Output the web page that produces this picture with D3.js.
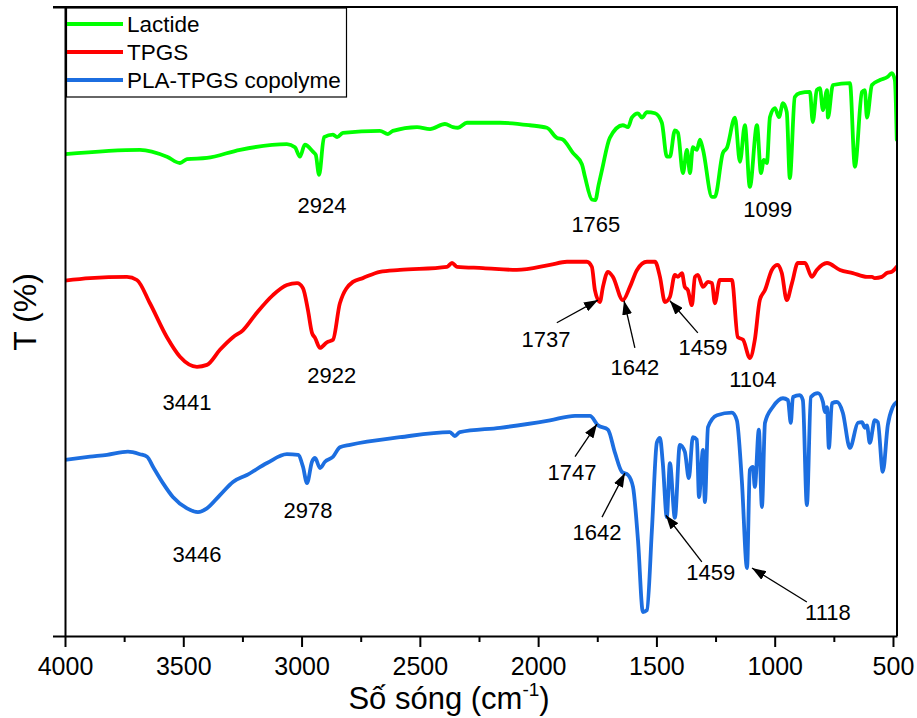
<!DOCTYPE html>
<html>
<head>
<meta charset="utf-8">
<script src="https://cdn.jsdelivr.net/npm/d3@7"></script>
<style>
  html, body { margin: 0; padding: 0; background: #fff; }
  svg { display: block; }
  text { font-family: "Liberation Sans", Arial, sans-serif; fill: #000; }
</style>
</head>
<body>
<svg id="chart" width="917" height="718"></svg>
<script>
// FTIR spectra: wavenumber (cm-1) and transmittance (offset, arbitrary %)
const lactide = [
  [4000,76.6],[3683,77.3],[3569,76.2],[3514,75.2],[3484,75.8],[3400,76.0],[3260,77.3],
  [3062,78.2],[3028,77.7],[3007,76.2],[2986,78.1],[2952,77.0],[2940,76.5],[2926,73.3],
  [2905,79.3],[2867,79.7],[2850,79.3],[2825,80.0],[2669,80.3],[2635,79.8],[2614,80.3],
  [2512,80.9],[2457,80.6],[2394,81.4],[2360,80.9],[2339,80.8],[2301,81.6],[2161,81.6],
  [2035,81.2],[1963,80.8],[1921,79.2],[1895,78.9],[1853,76.8],[1815,75.0],[1802,73.0],
  [1773,69.4],[1758,69.3],[1745,71.6],[1730,74.1],[1697,79.2],[1642,81.2],[1620,80.9],
  [1604,82.4],[1578,83.1],[1561,82.4],[1540,83.3],[1506,83.1],[1477,81.6],[1456,76.2],
  [1443,76.2],[1422,80.4],[1409,80.0],[1388,73.6],[1371,77.3],[1358,73.6],[1346,77.7],
  [1329,77.3],[1316,78.9],[1303,77.3],[1265,69.8],[1253,69.8],[1219,76.8],[1202,77.6],
  [1168,82.4],[1147,75.4],[1126,81.2],[1105,71.4],[1075,81.2],[1058,73.6],[1046,75.7],
  [1033,75.2],[1020,82.5],[999,83.9],[982,82.5],[965,84.7],[949,83.3],[936,72.8],
  [915,85.7],[894,86.3],[851,86.5],[839,81.7],[822,86.8],[809,87.1],[796,83.6],
  [779,86.8],[775,82.4],[754,87.6],[682,87.9],[661,74.6],[631,86.5],[619,86.8],
  [610,82.4],[589,87.6],[555,88.4],[522,88.9],[505,89.5],[492,88.4],[484,78.9]
];

const tpgs = [
  [4000,56.5],[3894,56.9],[3738,57.1],[3696,56.6],[3641,52.9],[3569,47.5],[3514,44.4],
  [3442,42.8],[3400,43.1],[3345,45.5],[3290,47.5],[3248,48.6],[3189,51.4],[3121,54.2],
  [3062,55.8],[3019,56.1],[2994,55.3],[2973,51.8],[2956,48.2],[2943,47.4],[2922,45.8],
  [2893,46.7],[2867,47.1],[2838,52.9],[2783,56.3],[2741,56.9],[2669,57.9],[2584,58.2],
  [2385,58.7],[2364,59.3],[2343,58.7],[2233,58.5],[2090,58.2],[1950,59.0],[1878,59.5],
  [1794,59.5],[1773,58.7],[1760,55.0],[1739,53.1],[1726,55.5],[1705,57.9],[1684,57.1],
  [1642,53.4],[1612,55.5],[1582,58.2],[1540,59.5],[1506,59.5],[1485,57.1],[1464,53.1],
  [1443,53.9],[1422,57.4],[1409,57.1],[1392,57.7],[1380,55.5],[1367,55.0],[1350,52.6],
  [1337,57.1],[1325,57.4],[1303,55.5],[1282,56.3],[1265,56.1],[1253,52.9],[1232,56.6],
  [1181,56.6],[1156,47.5],[1134,47.1],[1105,44.2],[1084,47.1],[1063,53.4],[1041,55.0],
  [1012,58.2],[987,59.0],[970,57.7],[949,53.4],[927,56.1],[902,59.3],[872,59.3],
  [843,57.1],[822,58.2],[779,59.3],[724,58.2],[670,57.7],[610,57.1],[589,57.1],
  [577,56.9],[547,57.1],[526,57.7],[505,57.9],[484,58.7]
];

const plaTpgs = [
  [4000,28.0],[3894,28.5],[3822,28.8],[3734,29.3],[3683,28.9],[3653,28.5],[3628,26.9],
  [3586,24.3],[3544,22.1],[3484,20.3],[3438,19.7],[3400,20.3],[3345,22.4],[3290,24.5],
  [3231,25.6],[3146,27.5],[3062,28.9],[3015,28.8],[2994,26.9],[2977,24.3],[2956,27.7],
  [2943,28.3],[2922,26.7],[2901,27.7],[2867,28.5],[2838,30.0],[2795,30.4],[2584,31.6],
  [2373,32.4],[2352,31.8],[2331,32.4],[2161,33.1],[1950,34.3],[1844,35.0],[1781,35.0],
  [1747,33.5],[1705,32.8],[1675,29.1],[1646,26.1],[1620,25.6],[1599,23.7],[1578,15.3],
  [1557,3.8],[1540,4.1],[1519,16.9],[1498,30.8],[1485,31.5],[1473,27.5],[1456,18.9],
  [1443,27.5],[1422,18.8],[1401,30.4],[1380,29.3],[1363,25.1],[1346,31.6],[1329,31.2],
  [1320,22.1],[1303,29.6],[1295,21.3],[1282,33.2],[1244,35.1],[1181,35.5],[1160,34.3],
  [1139,24.8],[1117,10.8],[1105,26.4],[1092,26.9],[1084,23.7],[1067,32.8],[1054,20.5],
  [1041,33.9],[1008,36.4],[965,37.8],[944,37.5],[932,33.9],[923,38.0],[894,38.3],
  [881,37.5],[864,20.8],[847,38.0],[817,38.6],[796,37.2],[788,35.6],[779,36.4],
  [771,29.9],[758,37.0],[737,37.2],[712,35.5],[682,29.9],[648,33.9],[631,34.0],
  [619,33.1],[610,33.5],[598,30.7],[577,34.3],[564,34.0],[543,26.1],[522,33.5],
  [501,36.4],[484,37.2]
];

const seriesNames = ["Lactide", "TPGS", "PLA-TPGS copolyme"];
const seriesColors = ["#00ff00", "#ff0000", "#1c6ee0"];
const seriesData = [lactide, tpgs, plaTpgs];

const majorTicks = [4000, 3500, 3000, 2500, 2000, 1500, 1000, 500];
const minorTicks = [3750, 3250, 2750, 2250, 1750, 1250, 750];

// peak labels: text and label position [wavenumber, T]
const plainLabels = [
  { text: "2924", at: [2914, 67.2] },
  { text: "1765", at: [1756, 64.2] },
  { text: "1099", at: [1029, 66.6] },
  { text: "3441", at: [3484, 35.9] },
  { text: "2922", at: [2872, 40.2] },
  { text: "1104", at: [1092, 39.6] },
  { text: "3446", at: [3442, 11.8] },
  { text: "2978", at: [2973, 18.8] }
];
// arrowed labels: label position, arrow tail and arrow tip [wavenumber, T]
const arrowLabels = [
  { text: "1737", at: [1967, 45.9], from: [1921, 49.8], to: [1747, 53.4] },
  { text: "1642", at: [1591, 41.5], from: [1591, 45.8], to: [1637, 53.3] },
  { text: "1459", at: [1303, 44.7], from: [1325, 48.2], to: [1443, 53.3] },
  { text: "1747", at: [1857, 24.8], from: [1844, 28.5], to: [1751, 33.7] },
  { text: "1642", at: [1751, 15.3], from: [1730, 18.9], to: [1633, 25.9] },
  { text: "1459", at: [1270, 8.9],  from: [1308, 11.8], to: [1460, 19.2] },
  { text: "1118", at: [775, 2.5],   from: [864, 5.4],   to: [1096, 10.8] }
];

const svg = d3.select("#chart");
const plotLeft = 65, plotRight = 897, plotTop = 7, plotBottom = 636;

const x = d3.scaleLinear().domain([4000, 483]).range([plotLeft, plotRight]);
const y = d3.scaleLinear().domain([0, 100]).range([plotBottom, plotTop]);

const defs = svg.append("defs");
// arrowhead marker
defs.append("marker")
  .attr("id", "arrowhead")
  .attr("markerUnits", "userSpaceOnUse")
  .attr("viewBox", "0 0 14 10")
  .attr("refX", 14).attr("refY", 5)
  .attr("markerWidth", 14).attr("markerHeight", 10)
  .attr("orient", "auto")
  .append("path").attr("d", "M0,0 L14,5 L0,10 Z").attr("fill", "#000");

defs.append("clipPath").attr("id", "plotclip")
  .append("rect").attr("x", plotLeft).attr("y", plotTop - 5)
  .attr("width", plotRight - plotLeft + 1).attr("height", plotBottom - plotTop + 5);

// spectra
const line = d3.line()
  .x(d => x(d[0])).y(d => y(d[1]))
  .curve(d3.curveMonotoneX);

svg.append("g").attr("clip-path", "url(#plotclip)")
  .selectAll("path").data(seriesData).join("path")
  .attr("d", line)
  .attr("fill", "none")
  .attr("stroke", (d, i) => seriesColors[i])
  .attr("stroke-width", 3.8)
  .attr("stroke-linejoin", "round")
  .attr("stroke-linecap", "round");

// frame: top and right edges
svg.append("line").attr("x1", plotLeft - 12).attr("x2", plotRight + 1)
  .attr("y1", plotTop).attr("y2", plotTop).attr("stroke", "#000").attr("stroke-width", 2);
svg.append("line").attr("x1", plotRight).attr("x2", plotRight)
  .attr("y1", plotTop).attr("y2", plotBottom).attr("stroke", "#000").attr("stroke-width", 2);

// bottom axis
const xAxis = svg.append("g").attr("transform", `translate(0,${plotBottom})`)
  .call(d3.axisBottom(x).tickValues(majorTicks).tickFormat(d3.format("d"))
    .tickSize(11).tickSizeOuter(0).tickPadding(10));
xAxis.select(".domain").attr("stroke-width", 2);
xAxis.selectAll(".tick line").attr("stroke-width", 2);
xAxis.selectAll(".tick text")
  .attr("font-family", '"Liberation Sans", Arial, sans-serif')
  .attr("font-size", 25).attr("fill", "#000");

svg.append("g").attr("transform", `translate(0,${plotBottom})`)
  .call(d3.axisBottom(x).tickValues(minorTicks).tickFormat("").tickSize(6).tickSizeOuter(0))
  .call(g => g.select(".domain").remove())
  .selectAll(".tick line").attr("stroke-width", 2);

// left axis (no labels, end ticks only)
const yAxis = svg.append("g").attr("transform", `translate(${plotLeft},0)`)
  .call(d3.axisLeft(y).tickValues([0, 100]).tickFormat("").tickSize(12).tickSizeOuter(0));
yAxis.select(".domain").attr("stroke-width", 2);
yAxis.selectAll(".tick line").attr("stroke-width", 2);

// axis titles
const xTitle = svg.append("text")
  .attr("x", 449).attr("y", 709)
  .attr("text-anchor", "middle").attr("font-size", 31);
xTitle.append("tspan").text("Số sóng (cm");
xTitle.append("tspan").attr("font-size", 19).attr("dy", -13).text("-1");
xTitle.append("tspan").attr("dy", 13).text(")");

svg.append("text")
  .attr("transform", "translate(36,312) rotate(-90)")
  .attr("text-anchor", "middle").attr("font-size", 32)
  .text("T (%)");

// peak labels
svg.append("g").selectAll("text").data(plainLabels).join("text")
  .attr("x", d => x(d.at[0])).attr("y", d => y(d.at[1]))
  .attr("text-anchor", "middle").attr("font-size", 22)
  .text(d => d.text);

const arrows = svg.append("g");
arrows.selectAll("line").data(arrowLabels).join("line")
  .attr("x1", d => x(d.from[0])).attr("y1", d => y(d.from[1]))
  .attr("x2", d => x(d.to[0])).attr("y2", d => y(d.to[1]))
  .attr("stroke", "#000").attr("stroke-width", 1.3)
  .attr("marker-end", "url(#arrowhead)");
arrows.selectAll("text").data(arrowLabels).join("text")
  .attr("x", d => x(d.at[0])).attr("y", d => y(d.at[1]))
  .attr("text-anchor", "middle").attr("font-size", 22)
  .text(d => d.text);

// legend
const legend = svg.append("g");
legend.append("rect")
  .attr("x", 66.5).attr("y", 8).attr("width", 280).attr("height", 89)
  .attr("fill", "#fff").attr("stroke", "#000").attr("stroke-width", 1.2);
const items = legend.selectAll("g.item").data(seriesNames).join("g")
  .attr("class", "item")
  .attr("transform", (d, i) => `translate(0,${24 + i * 28})`);
items.append("line")
  .attr("x1", 67).attr("x2", 123).attr("y1", 0).attr("y2", 0)
  .attr("stroke", (d, i) => seriesColors[i]).attr("stroke-width", 3.8);
items.append("text")
  .attr("x", 127).attr("y", 8).attr("font-size", 22.5)
  .text(d => d);
</script>
</body>
</html>
